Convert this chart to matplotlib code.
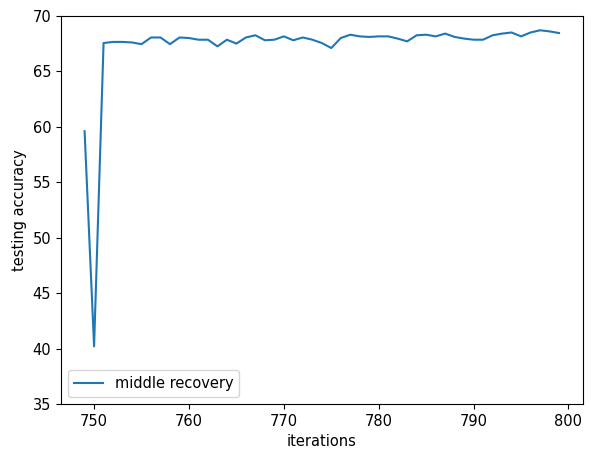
import matplotlib
matplotlib.use('Agg')
import matplotlib.pyplot as plt

# iterations and testing accuracy for the middle recovery run
iterations = list(range(749, 800))
accuracy = [59.6, 40.2, 67.55, 67.65, 67.65, 67.6, 67.45, 68.05, 68.05, 67.45,
            68.05, 68.0, 67.85, 67.85, 67.25, 67.85, 67.5, 68.05, 68.25, 67.8,
            67.85, 68.15, 67.8, 68.05, 67.85, 67.55, 67.1, 68.0, 68.3, 68.15,
            68.1, 68.15, 68.15, 67.95, 67.7, 68.25, 68.3, 68.15, 68.4, 68.1,
            67.95, 67.85, 67.85, 68.25, 68.4, 68.5, 68.15, 68.5, 68.7, 68.6,
            68.45]

plt.rcParams['font.size'] = 10.5

fig = plt.figure(figsize=(5.91, 4.53), dpi=100)
ax = fig.add_axes([0.103, 0.108, 0.883, 0.857])
ax.plot(iterations, accuracy, label='middle recovery')
ax.set_ylim(35, 70)
ax.set_xlabel('iterations')
ax.set_ylabel('testing accuracy')
ax.legend(loc='lower left')
fig.savefig('out.png', dpi=100)
